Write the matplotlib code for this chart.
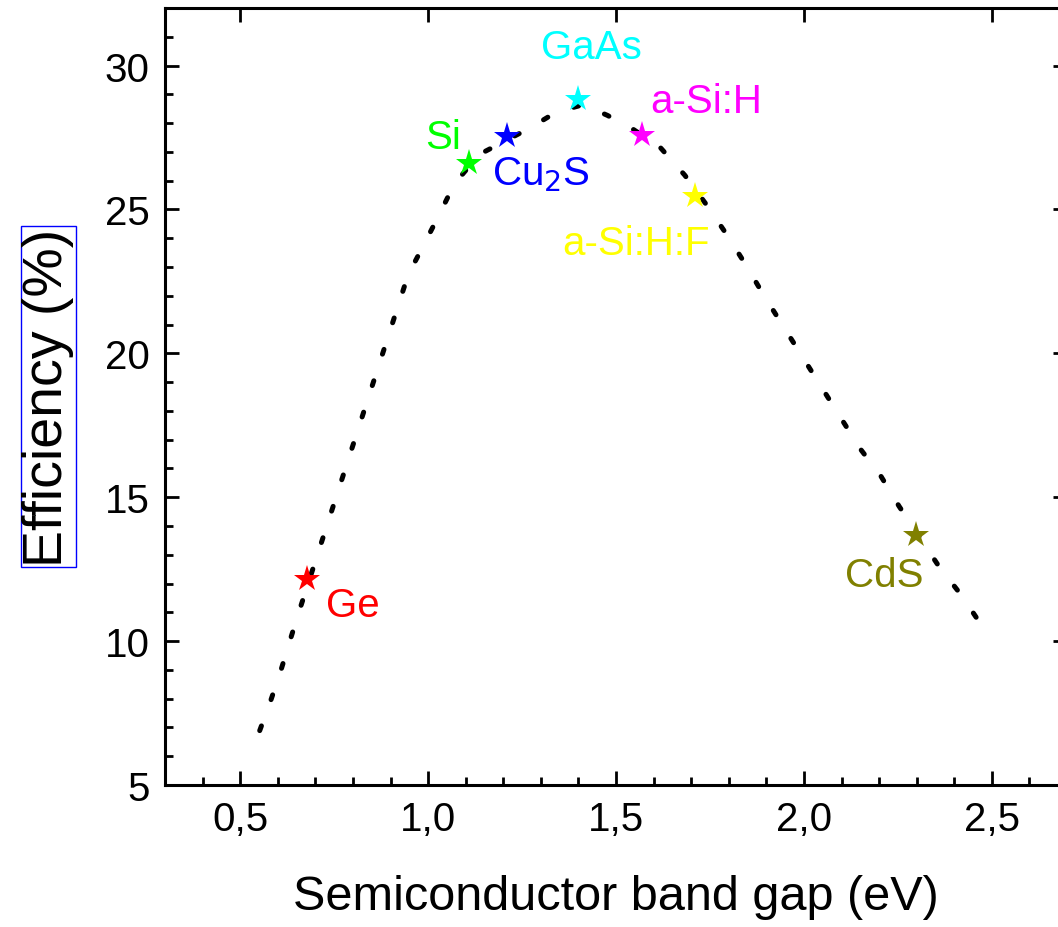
import matplotlib
matplotlib.use("Agg")
import matplotlib.pyplot as plt
from matplotlib.ticker import MultipleLocator, FuncFormatter

plt.rcParams['font.family'] = ['Liberation Sans', 'DejaVu Sans']

# Dotted guide curve
curve_x = [0.552, 0.582, 0.609, 0.634, 0.659, 0.947, 0.989, 1.030, 1.070,
           1.136, 1.271, 1.342, 1.413, 1.477, 1.545, 1.618, 1.683, 1.742,
           1.796, 1.847, 1.893, 2.150, 2.204, 2.253, 2.359, 2.421, 2.476]
curve_y = [6.89, 7.96, 9.01, 10.08, 11.12, 22.73, 23.78, 24.83, 25.89,
           26.91, 27.83, 28.39, 28.64, 28.27, 27.79, 27.15, 26.19, 25.14,
           24.10, 23.04, 22.02, 16.68, 15.75, 14.69, 12.60, 11.56, 10.48]

# Materials
materials = ["Ge", "Si", "Cu$_2$S", "GaAs", "a-Si:H", "a-Si:H:F", "CdS"]
band_gap = [0.678, 1.110, 1.209, 1.399, 1.570, 1.711, 2.299]
efficiency = [12.15, 26.62, 27.55, 28.84, 27.57, 25.48, 13.68]
colors = ["#FF0000", "#00FF00", "#0000FF", "#00FFFF", "#FF00FF", "#FFFF00", "#808000"]

# label placement offsets (data units) and alignment
label_dx = [0.05, -0.07, -0.04, 0.035, 0.02, -0.355, -0.19]
label_dy = [-0.9, 0.9, -1.3, 1.8, 1.2, -1.65, -1.4]
label_ha = ["left", "center", "left", "center", "left", "left", "left"]

fig = plt.figure(figsize=(10.58, 9.28), dpi=100)
ax = fig.add_axes([165/1058, 1-786/928, (1067-165)/1058, (786-9)/928])

ax.plot(curve_x, curve_y, color="black", lw=3.6, linestyle=(0, (1.0, 5.6)),
        dash_capstyle="round", zorder=2)

for i in range(len(materials)):
    ax.plot(band_gap[i], efficiency[i], marker="*", ms=20, color=colors[i],
            markeredgewidth=0, linestyle="none", zorder=3)
    ax.text(band_gap[i] + label_dx[i], efficiency[i] + label_dy[i], materials[i],
            color=colors[i], fontsize=29, ha=label_ha[i], va="center", zorder=4)

ax.set_xlim(0.3, 2.7)
ax.set_ylim(5, 32)
ax.xaxis.set_major_locator(MultipleLocator(0.5))
ax.xaxis.set_minor_locator(MultipleLocator(0.1))
ax.yaxis.set_major_locator(MultipleLocator(5))
ax.yaxis.set_minor_locator(MultipleLocator(1))
ax.xaxis.set_major_formatter(FuncFormatter(lambda v, p: ("%.1f" % v).replace(".", ",")))
ax.yaxis.set_major_formatter(FuncFormatter(lambda v, p: "%d" % v))

ax.tick_params(which="both", direction="in", width=2, labelsize=29, pad=11)
ax.tick_params(which="major", length=10)
ax.tick_params(which="minor", length=6)
ax.tick_params(axis="x", which="both", top=True)
ax.tick_params(axis="y", which="both", right=True)
ax.tick_params(axis="x", which="minor", top=False)
for s in ax.spines.values():
    s.set_linewidth(2.2)

ax.set_xlabel("Semiconductor band gap (eV)", fontsize=35, labelpad=26)
ax.set_ylabel("Efficiency (%)", fontsize=40, labelpad=22,
              bbox=dict(facecolor="none", edgecolor="blue", linewidth=1, pad=1))

fig.savefig("out.png", dpi=100)
